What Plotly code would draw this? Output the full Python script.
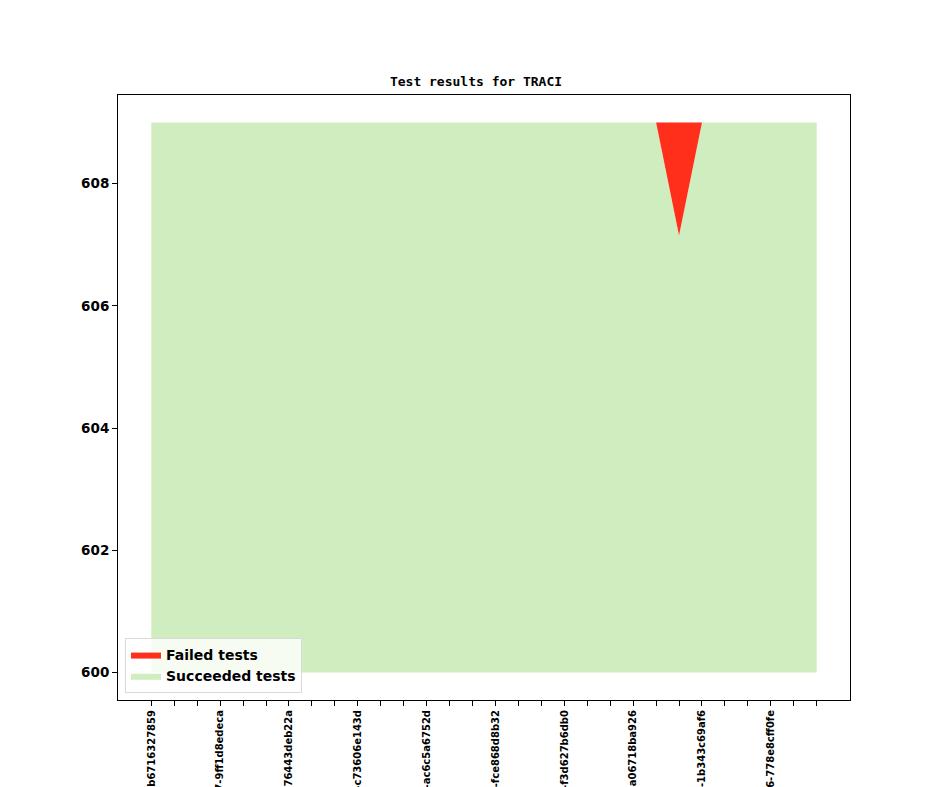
import plotly.graph_objects as go

# commit labels (only every third tick is labelled)
commits = [
    "2019-03-04-b6716327859", "", "",
    "2019-03-07-9ff1d8edeca", "", "",
    "2019-03-12-76443deb22a", "", "",
    "2019-03-15-c73606e143d", "", "",
    "2019-03-20-ac6c5a6752d", "", "",
    "2019-03-25-fce868d8b32", "", "",
    "2019-03-28-f3d627b6db0", "", "",
    "2019-04-02-a06718ba926", "", "",
    "2019-04-05-1b343c69af6", "", "",
    "2019-04-16-778e8cff0fe", "", "",
]
x = list(range(len(commits)))
total_tests = [609] * 30
succeeded = [609] * 23 + [607.15] + [609] * 6
baseline = [600] * 30

red = "#ff2f1b"
green = "#cfedbf"

fig = go.Figure()
fig.add_trace(go.Scatter(x=x, y=baseline, mode="lines", line=dict(width=0, color=green),
                         showlegend=False, hoverinfo="skip"))
fig.add_trace(go.Scatter(x=x, y=succeeded, mode="lines", line=dict(width=0, color=green),
                         fill="tonexty", fillcolor=green, name="Succeeded tests", legendrank=2))
fig.add_trace(go.Scatter(x=x, y=total_tests, mode="lines", line=dict(width=0, color=red),
                         fill="tonexty", fillcolor=red, name="Failed tests", legendrank=1))

fig.update_layout(
    width=936, height=779,
    margin=dict(l=110, r=94, t=87, b=87),
    paper_bgcolor="white", plot_bgcolor="white",
    font=dict(family="DejaVu Sans", size=13, color="black"),
    title=dict(text="<b>Test results for TRACI</b>", x=0.5, xanchor="center", y=0.906, yanchor="middle",
               font=dict(family="DejaVu Sans Mono", size=13)),
    legend=dict(x=0.0096, y=0.0116, xanchor="left", yanchor="bottom", traceorder="normal",
                bgcolor="rgba(255,255,255,0.8)", bordercolor="#d9d9d9", borderwidth=1,
                font=dict(size=14, family="DejaVu Sans", weight="bold"),
                tracegroupgap=0),
    showlegend=True,
)
fig.update_xaxes(
    range=[-1.45, 30.45], tickvals=x, ticktext=commits, tickangle=-90,
    ticks="outside", ticklen=5, tickcolor="black", showgrid=False, zeroline=False,
    showline=True, linecolor="black", linewidth=1, mirror=True, automargin=False,
    tickfont=dict(size=10, family="DejaVu Sans", weight="bold"),
)
fig.update_yaxes(
    range=[599.55, 609.45], tickvals=[600, 602, 604, 606, 608],
    ticks="outside", ticklen=5, tickcolor="black", showgrid=False, zeroline=False,
    showline=True, linecolor="black", linewidth=1, mirror=True, automargin=False,
    tickfont=dict(size=13.5, family="DejaVu Sans", weight="bold"),
)

fig.write_html("out.html")
